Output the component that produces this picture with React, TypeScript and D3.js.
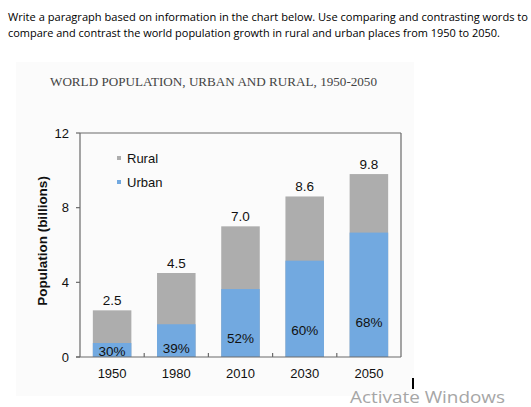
import React from "react";
import * as d3 from "d3";

const years = ["1950", "1980", "2010", "2030", "2050"];
const totals = [2.5, 4.5, 7.0, 8.6, 9.8];
const urbanPct = [30, 39, 52, 60, 68];
const yTicks = [0, 4, 8, 12];
const seriesNames = ["Rural", "Urban"];

const W = 531;
const H = 407;
const M = { left: 80, right: 401, top: 133, bottom: 357 };
const RURAL = "#adadad";
const URBAN = "#72a9e0";
const AXIS = "#6a6a6a";
const SANS = "'Liberation Sans', Arial, sans-serif";

export default function App() {
  const x = d3
    .scaleBand<string>()
    .domain(years)
    .range([M.left, M.right])
    .paddingInner(0.4)
    .paddingOuter(0.2);
  const y = d3.scaleLinear().domain([0, 12]).range([M.bottom, M.top]);
  const step = x.step();
  const data = years.map((yr, i) => {
    const urban = (totals[i] * urbanPct[i]) / 100;
    return { yr, total: totals[i], urban, pct: urbanPct[i] };
  });
  const boundaries = years.slice(1).map((yr) => (x(yr) as number) - (step * 0.4) / 2);

  return (
    <svg width={W} height={H} style={{ position: "absolute", left: 0, top: 0, background: "#fff" }}>
      <rect x={0} y={0} width={W} height={H} fill="#fff" />
      <text x={8} y={21} fontFamily="'Open Sans', sans-serif" fontSize={10.5} fill="#000" textLength={520} lengthAdjust="spacingAndGlyphs">
        Write a paragraph based on information in the chart below. Use comparing and contrasting words to
      </text>
      <text x={8} y={37} fontFamily="'Open Sans', sans-serif" fontSize={10.5} fill="#000" textLength={492} lengthAdjust="spacingAndGlyphs">
        compare and contrast the world population growth in rural and urban places from 1950 to 2050.
      </text>
      <rect x={16} y={62} width={398} height={334} fill="#fbfbfb" />
      <text x={50} y={86} fontFamily="'Liberation Serif', serif" fontSize={12.5} fill="#444" textLength={327} lengthAdjust="spacingAndGlyphs">
        WORLD POPULATION, URBAN AND RURAL, 1950-2050
      </text>

      {/* bars */}
      {data.map((d) => (
        <g key={d.yr}>
          <rect x={x(d.yr)} y={y(d.total)} width={x.bandwidth()} height={y(0) - y(d.total)} fill={RURAL} />
          <rect x={x(d.yr)} y={y(d.urban)} width={x.bandwidth()} height={y(0) - y(d.urban)} fill={URBAN} />
          <text
            x={(x(d.yr) as number) + x.bandwidth() / 2}
            y={y(d.total) - 5}
            textAnchor="middle"
            fontFamily={SANS}
            fontSize={13.5}
            fill="#111"
          >
            {d.total.toFixed(1)}
          </text>
          <text
            x={(x(d.yr) as number) + x.bandwidth() / 2}
            y={y(Math.max(d.urban * 0.28, 0.32))}
            dy="0.35em"
            textAnchor="middle"
            fontFamily={SANS}
            fontSize={13.5}
            fill="#111"
          >
            {d.pct}%
          </text>
        </g>
      ))}

      {/* frame */}
      <line x1={M.left} x2={M.right} y1={M.top} y2={M.top} stroke={AXIS} strokeWidth={1.2} />
      <line x1={M.right} x2={M.right} y1={M.top} y2={M.bottom} stroke={AXIS} strokeWidth={1.2} />
      <line x1={M.left} x2={M.left} y1={M.top} y2={M.bottom} stroke={AXIS} strokeWidth={1.2} />
      <line x1={M.left - 4} x2={M.right} y1={M.bottom} y2={M.bottom} stroke={AXIS} strokeWidth={1.2} />

      {/* y ticks */}
      {yTicks.map((t) => (
        <g key={t}>
          <line x1={M.left - 4} x2={M.left} y1={y(t)} y2={y(t)} stroke={AXIS} strokeWidth={1.2} />
          <text
            x={M.left - 11}
            y={y(t)}
            dy="0.35em"
            textAnchor="end"
            fontFamily={SANS}
            fontSize={13}
            fill="#111"
          >
            {t}
          </text>
        </g>
      ))}

      {/* x ticks */}
      {boundaries.map((b, i) => (
        <line key={i} x1={b} x2={b} y1={M.bottom} y2={M.bottom - 4} stroke={AXIS} strokeWidth={1.2} />
      ))}
      {years.map((yr) => (
        <text
          key={yr}
          x={(x(yr) as number) + x.bandwidth() / 2}
          y={M.bottom + 21}
          textAnchor="middle"
          fontFamily={SANS}
          fontSize={13}
          fill="#111"
        >
          {yr}
        </text>
      ))}

      {/* y axis title */}
      <text
        transform={`translate(47, ${(M.top + M.bottom) / 2 - 4}) rotate(-90)`}
        textAnchor="middle"
        fontFamily={SANS}
        fontWeight="bold"
        fontSize={13.5}
        fill="#111"
      >
        Population (billions)
      </text>

      {/* legend */}
      {seriesNames.map((s, i) => (
        <g key={s} transform={`translate(117, ${158 + i * 24})`}>
          <rect x={0} y={-2} width={4} height={4} fill={s === "Rural" ? RURAL : URBAN} />
          <text x={10} y={0} dy="0.35em" fontFamily={SANS} fontSize={13} fill="#111">
            {s}
          </text>
        </g>
      ))}

      {/* watermark */}
      <line x1={413} x2={413} y1={378} y2={389} stroke="#000" strokeWidth={2} />
      <text x={350} y={403} fontFamily="'Open Sans', sans-serif" fontSize={16} fill="#a6a6a6" textLength={155} lengthAdjust="spacingAndGlyphs">
        Activate Windows
      </text>
    </svg>
  );
}
